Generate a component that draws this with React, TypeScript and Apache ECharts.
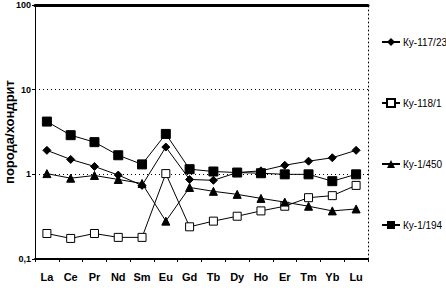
import React, { useEffect, useRef } from "react";
import * as echarts from "echarts";

const categories = ["La", "Ce", "Pr", "Nd", "Sm", "Eu", "Gd", "Tb", "Dy", "Ho", "Er", "Tm", "Yb", "Lu"];
const ky117_23 = [1.92, 1.5, 1.24, 0.98, 0.74, 2.1, 0.87, 0.85, 1.05, 1.1, 1.28, 1.43, 1.57, 1.92];
const ky118_1 = [0.2, 0.175, 0.2, 0.18, 0.18, 1.02, 0.24, 0.28, 0.32, 0.37, 0.42, 0.53, 0.56, 0.74];
const ky1_450 = [1.02, 0.9, 0.97, 0.87, 0.78, 0.28, 0.7, 0.63, 0.58, 0.52, 0.47, 0.42, 0.37, 0.39];
const ky1_194 = [4.2, 2.9, 2.4, 1.68, 1.31, 3.0, 1.15, 1.08, 1.05, 1.03, 1.0, 1.0, 0.83, 1.0];
const seriesNames = ["Ку-117/23", "Ку-118/1", "Ку-1/450", "Ку-1/194"];

const FONT = "'Liberation Sans Narrow', 'Liberation Sans', Arial, sans-serif";

export default function App() {
  const ref = useRef<HTMLDivElement>(null);
  useEffect(() => {
    if (!ref.current) return;
    const chart = echarts.init(ref.current, undefined, { renderer: "svg" });
    const base = {
      type: "line",
      lineStyle: { color: "#000", width: 1 },
      itemStyle: { color: "#000", borderColor: "#000" },
      emphasis: { disabled: true },
    };
    chart.setOption({
      animation: false,
      backgroundColor: "#fff",
      grid: { left: 35, top: 5, width: 333, height: 254, containLabel: false, outerBoundsMode: "none" },
      legend: {
        orient: "vertical",
        left: 376,
        top: 32,
        itemGap: 51,
        itemWidth: 18,
        itemHeight: 10,
        textStyle: { fontFamily: FONT, fontSize: 10, color: "#000", padding: [0, 0, 0, -2] },
        data: seriesNames,
      },
      xAxis: [
        {
          type: "category",
          data: categories,
          boundaryGap: true,
          axisLine: { onZero: false, lineStyle: { color: "#000", width: 2 } },
          axisTick: { show: true, length: 3, lineStyle: { color: "#000" } },
          axisLabel: { interval: 0, fontFamily: FONT, fontWeight: "bold", fontSize: 11, color: "#000", margin: 12 },
        },
        {
          type: "category",
          data: categories,
          position: "top",
          axisLine: { onZero: false, lineStyle: { color: "#000", width: 3 } },
          axisTick: { show: false },
          axisLabel: { show: false },
        },
      ],
      yAxis: [
        {
          type: "log",
          logBase: 10,
          min: 0.1,
          max: 100,
          name: "порода/хондрит",
          nameLocation: "middle",
          nameGap: 19,
          nameMoveOverlap: false,
          nameTextStyle: { fontFamily: FONT, fontWeight: "bold", fontSize: 13, color: "#000" },
          axisLine: { show: true, onZero: false, lineStyle: { color: "#000", width: 1 } },
          axisTick: { show: true, length: 3, lineStyle: { color: "#000" } },
          axisLabel: {
            fontFamily: FONT,
            fontSize: 9,
            fontWeight: "bold",
            color: "#000",
            margin: 4,
            showMaxLabel: true,
            showMinLabel: true,
            formatter: (v: number) => (v < 0.5 ? "0,1" : String(Math.round(v))),
          },
          splitLine: { show: true, lineStyle: { color: "#000", type: [1, 3], width: 1 } },
        },
        {
          type: "log",
          logBase: 10,
          min: 0.1,
          max: 100,
          position: "right",
          axisLine: { show: true, onZero: false, lineStyle: { color: "#000", width: 1, type: [1, 3] } },
          axisTick: { show: false },
          axisLabel: { show: false },
          splitLine: { show: false },
        },
      ],
      series: [
        { ...base, name: seriesNames[0], data: ky117_23, symbol: "diamond", symbolSize: 8 },
        {
          ...base,
          name: seriesNames[1],
          data: ky118_1,
          symbol: "rect",
          symbolSize: 8,
          itemStyle: { color: "#fff", borderColor: "#000", borderWidth: 1 },
        },
        { ...base, name: seriesNames[2], data: ky1_450, symbol: "triangle", symbolSize: 8 },
        { ...base, name: seriesNames[3], data: ky1_194, symbol: "rect", symbolSize: 9 },
      ],
    });
    return () => chart.dispose();
  }, []);
  return <div ref={ref} style={{ position: "absolute", left: 0, top: 0, width: 446, height: 293 }} />;
}
